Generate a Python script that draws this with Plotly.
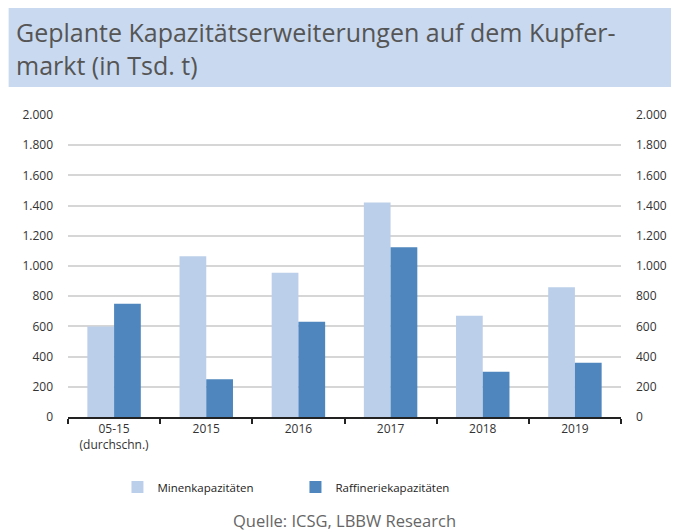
import plotly.graph_objects as go

categories = ["05-15<br>(durchschn.)", "2015", "2016", "2017", "2018", "2019"]
minen = [600, 1065, 955, 1420, 670, 860]
raffinerie = [750, 250, 630, 1125, 300, 360]
tick_vals = [0, 200, 400, 600, 800, 1000, 1200, 1400, 1600, 1800, 2000]
tick_text = ["0", "200", "400", "600", "800", "1.000", "1.200", "1.400", "1.600", "1.800", "2.000"]

# page body has an 8px margin: figure's top-left sits at (8, 8) of the window
OFF = 8
W, H = 679 - OFF, 532 - OFF
PL, PR, PT, PB = 68, 627, 115, 417  # plot area in window pixels
L, R, T, B = PL - OFF, W - (PR - OFF), PT - OFF, H - (PB - OFF)
pw, ph = W - L - R, H - T - B

def px_x(p):
    return (p - OFF - L) / pw

def px_y(p):
    return (H - B - (p - OFF)) / ph

FONT = "Open Sans"

fig = go.Figure()
fig.add_trace(go.Bar(x=categories, y=minen, name="Minenkapazitäten",
                     marker=dict(color="#BCCFEA", line=dict(width=0))))
fig.add_trace(go.Bar(x=categories, y=raffinerie, name="Raffineriekapazitäten",
                     marker=dict(color="#4F86BD", line=dict(width=0))))
# invisible trace to bind the right axis
fig.add_trace(go.Scatter(x=categories, y=minen, yaxis="y2", mode="markers",
                         marker=dict(opacity=0), showlegend=False, hoverinfo="skip"))

fig.update_layout(
    width=W, height=H,
    margin=dict(l=L, r=R, t=T, b=B, pad=0),
    paper_bgcolor="white", plot_bgcolor="white",
    barmode="group", bargap=0.42, bargroupgap=0,
    font=dict(family=FONT, size=12, color="#333333"),
    xaxis=dict(
        type="category", showline=True, linecolor="#222222", linewidth=1.5,
        ticks="outside", tickson="boundaries", ticklen=5, tickcolor="#222222", tickwidth=1.5,
        showgrid=False, tickfont=dict(size=12, color="#333333"),
    ),
    yaxis=dict(
        range=[0, 2000], tickvals=tick_vals, ticktext=tick_text,
        showgrid=True, gridcolor="#D6D6D6", gridwidth=1.5, zeroline=False,
        ticks="", ticklabelstandoff=14, tickfont=dict(size=12, color="#333333"),
    ),
    yaxis2=dict(
        range=[0, 2000], tickvals=tick_vals, ticktext=tick_text, overlaying="y", side="right",
        showgrid=False, zeroline=False, ticks="", ticklabelstandoff=14,
        tickfont=dict(size=12, color="#333333"),
    ),
    legend=dict(orientation="h", x=px_x(118), y=px_y(487), xanchor="left", yanchor="middle",
                font=dict(size=11.5, color="#222222"), itemwidth=30, entrywidth=133,
                bgcolor="rgba(0,0,0,0)"),
    shapes=[dict(type="rect", xref="paper", yref="paper",
                 x0=px_x(8), x1=px_x(700), y0=px_y(87), y1=px_y(0),
                 fillcolor="#C9D9EF", line=dict(width=0), layer="below")],
    annotations=[
        dict(text="Geplante Kapazitätserweiterungen auf dem Kupfer-<br>markt (in Tsd. t)",
             xref="paper", yref="paper", x=px_x(13), y=px_y(13), xanchor="left", yanchor="top",
             showarrow=False, align="left", font=dict(family=FONT, size=25, color="#555555")),
        dict(text="Quelle: ICSG, LBBW Research", xref="paper", yref="paper",
             x=px_x(348), y=px_y(520), xanchor="center", yanchor="middle", showarrow=False,
             font=dict(family=FONT, size=16.5, color="#666666")),
    ],
)

fig.write_html("out.html")
